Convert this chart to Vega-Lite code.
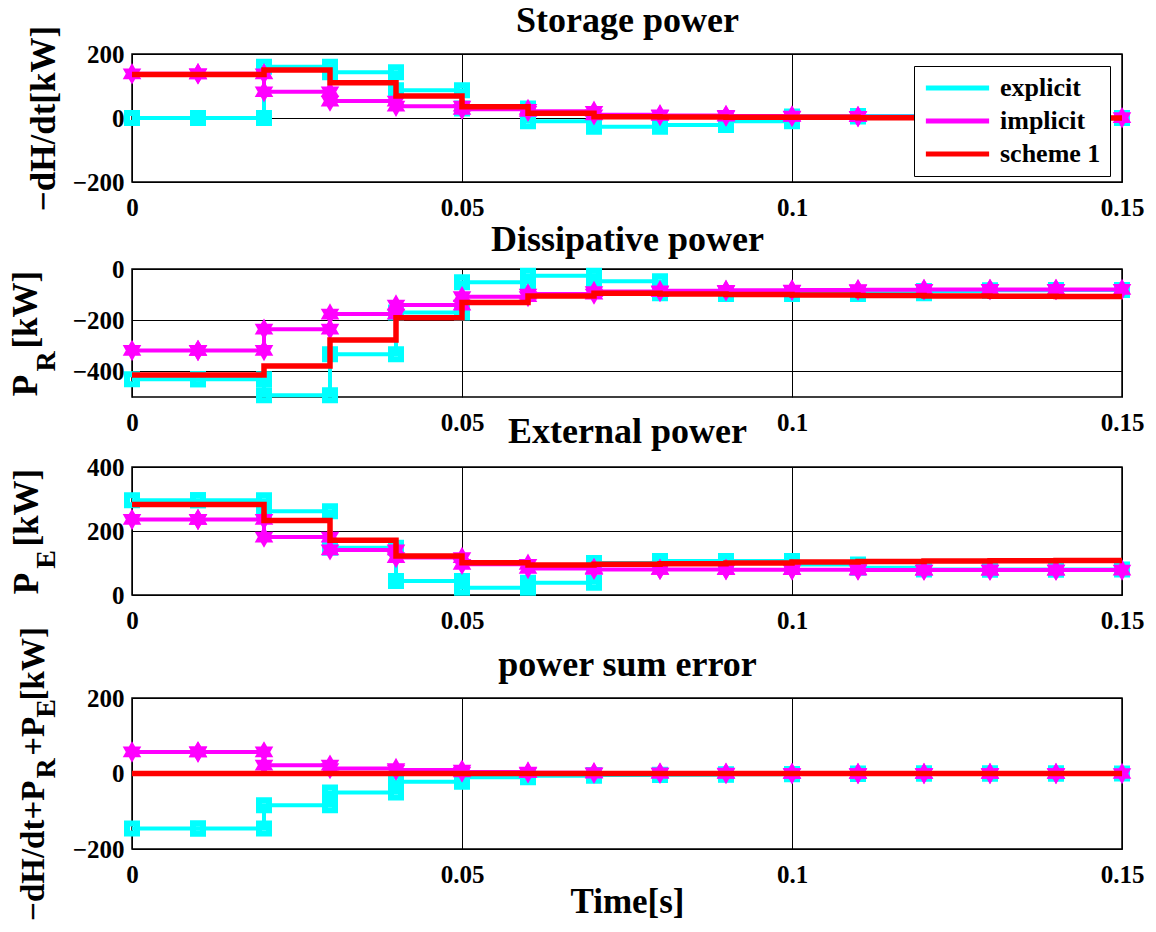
{
"$schema": "https://vega.github.io/schema/vega-lite/v6.json",
"padding": {"left": 7, "top": 1, "right": 0, "bottom": 0},
"background": "white",
"spacing": -25,
"config": {
 "font": "Liberation Serif",
 "view": {"stroke": "black", "strokeWidth": 1.5},
 "axis": {"labelFont": "Liberation Serif", "labelFontWeight": "bold", "labelFontSize": 25, "labelColor": "black", "titleFont": "Liberation Serif", "titleFontWeight": "bold", "titleFontSize": 35, "titleColor": "black", "ticks": false, "domain": false, "grid": true, "gridColor": "black", "gridOpacity": 1, "gridWidth": 1}
},
"datasets": {
 "e1": [{"t":0,"v":0},{"t":0.01,"v":0},{"t":0.01,"v":0},{"t":0.02,"v":0},{"t":0.02,"v":160},{"t":0.03,"v":160},{"t":0.03,"v":143},{"t":0.04,"v":143},{"t":0.04,"v":87},{"t":0.05,"v":87},{"t":0.05,"v":30},{"t":0.06,"v":30},{"t":0.06,"v":-10},{"t":0.07,"v":-10},{"t":0.07,"v":-27},{"t":0.08,"v":-27},{"t":0.08,"v":-22},{"t":0.09,"v":-22},{"t":0.09,"v":-10},{"t":0.1,"v":-10},{"t":0.1,"v":5},{"t":0.11,"v":5},{"t":0.11,"v":6},{"t":0.12,"v":6},{"t":0.12,"v":3},{"t":0.13,"v":3},{"t":0.13,"v":1},{"t":0.14,"v":1},{"t":0.14,"v":0},{"t":0.15,"v":0}],
 "i1": [{"t":0,"v":138},{"t":0.01,"v":138},{"t":0.01,"v":138},{"t":0.02,"v":138},{"t":0.02,"v":82},{"t":0.03,"v":82},{"t":0.03,"v":53},{"t":0.04,"v":53},{"t":0.04,"v":37},{"t":0.05,"v":37},{"t":0.05,"v":27},{"t":0.06,"v":27},{"t":0.06,"v":21},{"t":0.07,"v":21},{"t":0.07,"v":10},{"t":0.08,"v":10},{"t":0.08,"v":8},{"t":0.09,"v":8},{"t":0.09,"v":6},{"t":0.1,"v":6},{"t":0.1,"v":5},{"t":0.11,"v":5},{"t":0.11,"v":4},{"t":0.12,"v":4},{"t":0.12,"v":3},{"t":0.13,"v":3},{"t":0.13,"v":2},{"t":0.14,"v":2},{"t":0.14,"v":1},{"t":0.15,"v":1}],
 "s1": [{"t":0,"v":136},{"t":0.01,"v":136},{"t":0.02,"v":150},{"t":0.03,"v":110},{"t":0.04,"v":69},{"t":0.05,"v":35},{"t":0.06,"v":15},{"t":0.07,"v":4},{"t":0.08,"v":3},{"t":0.09,"v":2},{"t":0.1,"v":2},{"t":0.11,"v":1},{"t":0.12,"v":1},{"t":0.13,"v":1},{"t":0.14,"v":0},{"t":0.15,"v":0}],
 "e2": [{"t":0,"v":-431},{"t":0.01,"v":-431},{"t":0.01,"v":-431},{"t":0.02,"v":-431},{"t":0.02,"v":-493},{"t":0.03,"v":-493},{"t":0.03,"v":-333},{"t":0.04,"v":-333},{"t":0.04,"v":-170},{"t":0.05,"v":-170},{"t":0.05,"v":-52},{"t":0.06,"v":-52},{"t":0.06,"v":-26},{"t":0.07,"v":-26},{"t":0.07,"v":-48},{"t":0.08,"v":-48},{"t":0.08,"v":-95},{"t":0.09,"v":-95},{"t":0.09,"v":-98},{"t":0.1,"v":-98},{"t":0.1,"v":-98},{"t":0.11,"v":-98},{"t":0.11,"v":-95},{"t":0.12,"v":-95},{"t":0.12,"v":-86},{"t":0.13,"v":-86},{"t":0.13,"v":-83},{"t":0.14,"v":-83},{"t":0.14,"v":-82},{"t":0.15,"v":-82}],
 "i2": [{"t":0,"v":-318},{"t":0.01,"v":-318},{"t":0.01,"v":-318},{"t":0.02,"v":-318},{"t":0.02,"v":-235},{"t":0.03,"v":-235},{"t":0.03,"v":-176},{"t":0.04,"v":-176},{"t":0.04,"v":-141},{"t":0.05,"v":-141},{"t":0.05,"v":-108},{"t":0.06,"v":-108},{"t":0.06,"v":-98},{"t":0.07,"v":-98},{"t":0.07,"v":-88},{"t":0.08,"v":-88},{"t":0.08,"v":-85},{"t":0.09,"v":-85},{"t":0.09,"v":-83},{"t":0.1,"v":-83},{"t":0.1,"v":-82},{"t":0.11,"v":-82},{"t":0.11,"v":-81},{"t":0.12,"v":-81},{"t":0.12,"v":-80},{"t":0.13,"v":-80},{"t":0.13,"v":-80},{"t":0.14,"v":-80},{"t":0.14,"v":-80},{"t":0.15,"v":-80}],
 "s2": [{"t":0,"v":-414},{"t":0.01,"v":-414},{"t":0.02,"v":-379},{"t":0.03,"v":-277},{"t":0.04,"v":-190},{"t":0.05,"v":-131},{"t":0.06,"v":-105},{"t":0.07,"v":-95},{"t":0.08,"v":-98},{"t":0.09,"v":-100},{"t":0.1,"v":-102},{"t":0.11,"v":-104},{"t":0.12,"v":-105},{"t":0.13,"v":-106},{"t":0.14,"v":-107},{"t":0.15,"v":-107}],
 "e3": [{"t":0,"v":296},{"t":0.01,"v":296},{"t":0.01,"v":296},{"t":0.02,"v":296},{"t":0.02,"v":262},{"t":0.03,"v":262},{"t":0.03,"v":148},{"t":0.04,"v":148},{"t":0.04,"v":44},{"t":0.05,"v":44},{"t":0.05,"v":23},{"t":0.06,"v":23},{"t":0.06,"v":38},{"t":0.07,"v":38},{"t":0.07,"v":100},{"t":0.08,"v":100},{"t":0.08,"v":106},{"t":0.09,"v":106},{"t":0.09,"v":106},{"t":0.1,"v":106},{"t":0.1,"v":95},{"t":0.11,"v":95},{"t":0.11,"v":85},{"t":0.12,"v":85},{"t":0.12,"v":80},{"t":0.13,"v":80},{"t":0.13,"v":80},{"t":0.14,"v":80},{"t":0.14,"v":80},{"t":0.15,"v":80}],
 "i3": [{"t":0,"v":236},{"t":0.01,"v":236},{"t":0.01,"v":236},{"t":0.02,"v":236},{"t":0.02,"v":181},{"t":0.03,"v":181},{"t":0.03,"v":141},{"t":0.04,"v":141},{"t":0.04,"v":117},{"t":0.05,"v":117},{"t":0.05,"v":96},{"t":0.06,"v":96},{"t":0.06,"v":83},{"t":0.07,"v":83},{"t":0.07,"v":80},{"t":0.08,"v":80},{"t":0.08,"v":80},{"t":0.09,"v":80},{"t":0.09,"v":79},{"t":0.1,"v":79},{"t":0.1,"v":79},{"t":0.11,"v":79},{"t":0.11,"v":78},{"t":0.12,"v":78},{"t":0.12,"v":78},{"t":0.13,"v":78},{"t":0.13,"v":78},{"t":0.14,"v":78},{"t":0.14,"v":78},{"t":0.15,"v":78}],
 "s3": [{"t":0,"v":283},{"t":0.01,"v":283},{"t":0.02,"v":233},{"t":0.03,"v":171},{"t":0.04,"v":122},{"t":0.05,"v":101},{"t":0.06,"v":94},{"t":0.07,"v":96},{"t":0.08,"v":98},{"t":0.09,"v":100},{"t":0.1,"v":103},{"t":0.11,"v":105},{"t":0.12,"v":106},{"t":0.13,"v":107},{"t":0.14,"v":108},{"t":0.15,"v":108}],
 "e4": [{"t":0,"v":-146},{"t":0.01,"v":-146},{"t":0.01,"v":-146},{"t":0.02,"v":-146},{"t":0.02,"v":-84},{"t":0.03,"v":-84},{"t":0.03,"v":-50},{"t":0.04,"v":-50},{"t":0.04,"v":-22},{"t":0.05,"v":-22},{"t":0.05,"v":-10},{"t":0.06,"v":-10},{"t":0.06,"v":-6},{"t":0.07,"v":-6},{"t":0.07,"v":-4},{"t":0.08,"v":-4},{"t":0.08,"v":-3},{"t":0.09,"v":-3},{"t":0.09,"v":-2},{"t":0.1,"v":-2},{"t":0.1,"v":-1},{"t":0.11,"v":-1},{"t":0.11,"v":0},{"t":0.12,"v":0},{"t":0.12,"v":0},{"t":0.13,"v":0},{"t":0.13,"v":0},{"t":0.14,"v":0},{"t":0.14,"v":0},{"t":0.15,"v":0}],
 "i4": [{"t":0,"v":57},{"t":0.01,"v":57},{"t":0.01,"v":57},{"t":0.02,"v":57},{"t":0.02,"v":22},{"t":0.03,"v":22},{"t":0.03,"v":13},{"t":0.04,"v":13},{"t":0.04,"v":9},{"t":0.05,"v":9},{"t":0.05,"v":4},{"t":0.06,"v":4},{"t":0.06,"v":2},{"t":0.07,"v":2},{"t":0.07,"v":1},{"t":0.08,"v":1},{"t":0.08,"v":1},{"t":0.09,"v":1},{"t":0.09,"v":0},{"t":0.1,"v":0},{"t":0.1,"v":0},{"t":0.11,"v":0},{"t":0.11,"v":0},{"t":0.12,"v":0},{"t":0.12,"v":0},{"t":0.13,"v":0},{"t":0.13,"v":0},{"t":0.14,"v":0},{"t":0.14,"v":0},{"t":0.15,"v":0}],
 "s4": [{"t":0,"v":0},{"t":0.01,"v":0},{"t":0.02,"v":0},{"t":0.03,"v":0},{"t":0.04,"v":0},{"t":0.05,"v":0},{"t":0.06,"v":0},{"t":0.07,"v":0},{"t":0.08,"v":0},{"t":0.09,"v":0},{"t":0.1,"v":0},{"t":0.11,"v":0},{"t":0.12,"v":0},{"t":0.13,"v":0},{"t":0.14,"v":0},{"t":0.15,"v":0}]
},
"resolve": {"scale": {"color": "independent"}, "legend": {"color": "independent"}},
"vconcat": [
 {
  "width": 990, "height": 128,
  "resolve": {"axis": {"x": "independent", "y": "independent"}},
  "layer": [
   {"data": {"name": "e1"}, "mark": {"type": "line", "strokeWidth": 4},
    "encoding": {"order": {"value": null},
     "x": {"field": "t", "type": "quantitative", "scale": {"domain": [0, 0.15], "nice": false, "zero": false}, "axis": {"values": [0, 0.05, 0.1, 0.15], "format": ".2~f", "title": null, "labelPadding": 13, "labelAngle": 0, "labelFlush": false, "labelOverlap": false, "minExtent": 62}},
     "y": {"field": "v", "type": "quantitative", "scale": {"domain": [-200, 200], "nice": false, "zero": false}, "axis": {"values": [-200, 0, 200], "title": "−dH/dt[kW]", "titleX": -78, "titleY": 64, "titleAngle": 270, "titleBaseline": "alphabetic", "titleAlign": "center", "labelPadding": 8}},
     "color": {"datum": "explicit", "type": "nominal", "scale": {"domain": ["explicit", "implicit", "scheme 1"], "range": ["#00ffff", "#ff00ff", "#ff0000"]}, "legend": {"title": null, "orient": "top-right", "offset": 12, "symbolType": "stroke", "symbolSize": 4000, "symbolStrokeWidth": 5, "clipHeight": 26, "labelFontSize": 26, "labelFont": "Liberation Serif", "labelFontWeight": "bold", "labelColor": "black", "labelOffset": 8, "rowPadding": 7, "padding": 9, "strokeColor": "black", "fillColor": "white", "cornerRadius": 0}}}},
   {"data": {"name": "e1"}, "mark": {"type": "point", "shape": "square", "filled": false, "strokeWidth": 6, "size": 100, "color": "#00ffff", "opacity": 1},
    "encoding": {
     "x": {"field": "t", "type": "quantitative", "scale": {"domain": [0, 0.15], "nice": false, "zero": false}, "axis": {"orient": "top", "title": "Storage power", "labels": false, "ticks": false, "domain": false, "grid": false, "titlePadding": 23, "titleBaseline": "alphabetic", "titleFontSize": 36}},
     "y": {"field": "v", "type": "quantitative", "scale": {"domain": [-200, 200], "nice": false, "zero": false}, "axis": null}}},
   {"data": {"name": "i1"}, "mark": {"type": "line", "strokeWidth": 4},
    "encoding": {"order": {"value": null},
     "x": {"field": "t", "type": "quantitative", "scale": {"domain": [0, 0.15], "nice": false, "zero": false}, "axis": null},
     "y": {"field": "v", "type": "quantitative", "scale": {"domain": [-200, 200], "nice": false, "zero": false}, "axis": null},
     "color": {"datum": "implicit", "type": "nominal", "scale": {"domain": ["explicit", "implicit", "scheme 1"], "range": ["#00ffff", "#ff00ff", "#ff0000"]}, "legend": {"title": null, "orient": "top-right", "offset": 12, "symbolType": "stroke", "symbolSize": 4000, "symbolStrokeWidth": 5, "clipHeight": 26, "labelFontSize": 26, "labelFont": "Liberation Serif", "labelFontWeight": "bold", "labelColor": "black", "labelOffset": 8, "rowPadding": 7, "padding": 9, "strokeColor": "black", "fillColor": "white", "cornerRadius": 0}}}},
   {"data": {"name": "i1"}, "mark": {"type": "point", "shape": "M0,-1L0.2887,-0.5L0.866,-0.5L0.5774,0L0.866,0.5L0.2887,0.5L0,1L-0.2887,0.5L-0.866,0.5L-0.5774,0L-0.866,-0.5L-0.2887,-0.5Z", "filled": true, "size": 460, "color": "#ff00ff", "opacity": 1, "strokeWidth": 0},
    "encoding": {
     "x": {"field": "t", "type": "quantitative", "scale": {"domain": [0, 0.15], "nice": false, "zero": false}, "axis": null},
     "y": {"field": "v", "type": "quantitative", "scale": {"domain": [-200, 200], "nice": false, "zero": false}, "axis": null}}},
   {"data": {"name": "s1"}, "mark": {"type": "line", "strokeWidth": 5.5, "interpolate": "step-after"},
    "encoding": {"order": {"value": null},
     "x": {"field": "t", "type": "quantitative", "scale": {"domain": [0, 0.15], "nice": false, "zero": false}, "axis": null},
     "y": {"field": "v", "type": "quantitative", "scale": {"domain": [-200, 200], "nice": false, "zero": false}, "axis": null},
     "color": {"datum": "scheme 1", "type": "nominal", "scale": {"domain": ["explicit", "implicit", "scheme 1"], "range": ["#00ffff", "#ff00ff", "#ff0000"]}, "legend": {"title": null, "orient": "top-right", "offset": 12, "symbolType": "stroke", "symbolSize": 4000, "symbolStrokeWidth": 5, "clipHeight": 26, "labelFontSize": 26, "labelFont": "Liberation Serif", "labelFontWeight": "bold", "labelColor": "black", "labelOffset": 8, "rowPadding": 7, "padding": 9, "strokeColor": "black", "fillColor": "white", "cornerRadius": 0}}}}
  ]
 },
 {
  "width": 990, "height": 128,
  "resolve": {"axis": {"x": "independent", "y": "independent"}},
  "layer": [
   {"data": {"name": "e2"}, "mark": {"type": "line", "strokeWidth": 4},
    "encoding": {"order": {"value": null},
     "x": {"field": "t", "type": "quantitative", "scale": {"domain": [0, 0.15], "nice": false, "zero": false}, "axis": {"values": [0, 0.05, 0.1, 0.15], "format": ".2~f", "title": null, "labelPadding": 13, "labelAngle": 0, "labelFlush": false, "labelOverlap": false, "minExtent": 39}},
     "y": {"field": "v", "type": "quantitative", "scale": {"domain": [-500, 0], "nice": false, "zero": false}, "axis": {"values": [-400, -200, 0], "title": "P\u00a0\u00a0\u00a0[kW]", "titleX": -96, "titleY": 64, "titleAngle": 270, "titleBaseline": "alphabetic", "titleAlign": "center", "labelPadding": 8}},
     "color": {"datum": "explicit", "type": "nominal", "scale": {"domain": ["explicit", "implicit", "scheme 1"], "range": ["#00ffff", "#ff00ff", "#ff0000"]}, "legend": null}}},
   {"data": {"name": "e2"}, "mark": {"type": "point", "shape": "square", "filled": false, "strokeWidth": 6, "size": 100, "color": "#00ffff", "opacity": 1},
    "encoding": {
     "x": {"field": "t", "type": "quantitative", "scale": {"domain": [0, 0.15], "nice": false, "zero": false}, "axis": {"orient": "top", "title": "Dissipative power", "labels": false, "ticks": false, "domain": false, "grid": false, "titlePadding": 19, "titleBaseline": "alphabetic", "titleFontSize": 36}},
     "y": {"field": "v", "type": "quantitative", "scale": {"domain": [-500, 0], "nice": false, "zero": false}, "axis": {"title": "R", "orient": "left", "labels": false, "ticks": false, "domain": false, "grid": false, "titleX": -78, "titleY": 92, "titleAngle": 270, "titleBaseline": "alphabetic", "titleAlign": "center", "titleFontSize": 28}}}},
   {"data": {"name": "i2"}, "mark": {"type": "line", "strokeWidth": 4},
    "encoding": {"order": {"value": null},
     "x": {"field": "t", "type": "quantitative", "scale": {"domain": [0, 0.15], "nice": false, "zero": false}, "axis": null},
     "y": {"field": "v", "type": "quantitative", "scale": {"domain": [-500, 0], "nice": false, "zero": false}, "axis": null},
     "color": {"datum": "implicit", "type": "nominal", "scale": {"domain": ["explicit", "implicit", "scheme 1"], "range": ["#00ffff", "#ff00ff", "#ff0000"]}, "legend": null}}},
   {"data": {"name": "i2"}, "mark": {"type": "point", "shape": "M0,-1L0.2887,-0.5L0.866,-0.5L0.5774,0L0.866,0.5L0.2887,0.5L0,1L-0.2887,0.5L-0.866,0.5L-0.5774,0L-0.866,-0.5L-0.2887,-0.5Z", "filled": true, "size": 460, "color": "#ff00ff", "opacity": 1, "strokeWidth": 0},
    "encoding": {
     "x": {"field": "t", "type": "quantitative", "scale": {"domain": [0, 0.15], "nice": false, "zero": false}, "axis": null},
     "y": {"field": "v", "type": "quantitative", "scale": {"domain": [-500, 0], "nice": false, "zero": false}, "axis": null}}},
   {"data": {"name": "s2"}, "mark": {"type": "line", "strokeWidth": 5.5, "interpolate": "step-after"},
    "encoding": {"order": {"value": null},
     "x": {"field": "t", "type": "quantitative", "scale": {"domain": [0, 0.15], "nice": false, "zero": false}, "axis": null},
     "y": {"field": "v", "type": "quantitative", "scale": {"domain": [-500, 0], "nice": false, "zero": false}, "axis": null},
     "color": {"datum": "scheme 1", "type": "nominal", "scale": {"domain": ["explicit", "implicit", "scheme 1"], "range": ["#00ffff", "#ff00ff", "#ff0000"]}, "legend": null}}}
  ]
 },
 {
  "width": 990, "height": 128,
  "resolve": {"axis": {"x": "independent", "y": "independent"}},
  "layer": [
   {"data": {"name": "e3"}, "mark": {"type": "line", "strokeWidth": 4},
    "encoding": {"order": {"value": null},
     "x": {"field": "t", "type": "quantitative", "scale": {"domain": [0, 0.15], "nice": false, "zero": false}, "axis": {"values": [0, 0.05, 0.1, 0.15], "format": ".2~f", "title": null, "labelPadding": 13, "labelAngle": 0, "labelFlush": false, "labelOverlap": false, "minExtent": 54}},
     "y": {"field": "v", "type": "quantitative", "scale": {"domain": [0, 400], "nice": false, "zero": false}, "axis": {"values": [0, 200, 400], "title": "P\u00a0\u00a0\u00a0[kW]", "titleX": -95, "titleY": 64, "titleAngle": 270, "titleBaseline": "alphabetic", "titleAlign": "center", "labelPadding": 8}},
     "color": {"datum": "explicit", "type": "nominal", "scale": {"domain": ["explicit", "implicit", "scheme 1"], "range": ["#00ffff", "#ff00ff", "#ff0000"]}, "legend": null}}},
   {"data": {"name": "e3"}, "mark": {"type": "point", "shape": "square", "filled": false, "strokeWidth": 6, "size": 100, "color": "#00ffff", "opacity": 1},
    "encoding": {
     "x": {"field": "t", "type": "quantitative", "scale": {"domain": [0, 0.15], "nice": false, "zero": false}, "axis": {"orient": "top", "title": "External power", "labels": false, "ticks": false, "domain": false, "grid": false, "titlePadding": 25, "titleBaseline": "alphabetic", "titleFontSize": 36}},
     "y": {"field": "v", "type": "quantitative", "scale": {"domain": [0, 400], "nice": false, "zero": false}, "axis": {"title": "E", "orient": "left", "labels": false, "ticks": false, "domain": false, "grid": false, "titleX": -78, "titleY": 92, "titleAngle": 270, "titleBaseline": "alphabetic", "titleAlign": "center", "titleFontSize": 28}}}},
   {"data": {"name": "i3"}, "mark": {"type": "line", "strokeWidth": 4},
    "encoding": {"order": {"value": null},
     "x": {"field": "t", "type": "quantitative", "scale": {"domain": [0, 0.15], "nice": false, "zero": false}, "axis": null},
     "y": {"field": "v", "type": "quantitative", "scale": {"domain": [0, 400], "nice": false, "zero": false}, "axis": null},
     "color": {"datum": "implicit", "type": "nominal", "scale": {"domain": ["explicit", "implicit", "scheme 1"], "range": ["#00ffff", "#ff00ff", "#ff0000"]}, "legend": null}}},
   {"data": {"name": "i3"}, "mark": {"type": "point", "shape": "M0,-1L0.2887,-0.5L0.866,-0.5L0.5774,0L0.866,0.5L0.2887,0.5L0,1L-0.2887,0.5L-0.866,0.5L-0.5774,0L-0.866,-0.5L-0.2887,-0.5Z", "filled": true, "size": 460, "color": "#ff00ff", "opacity": 1, "strokeWidth": 0},
    "encoding": {
     "x": {"field": "t", "type": "quantitative", "scale": {"domain": [0, 0.15], "nice": false, "zero": false}, "axis": null},
     "y": {"field": "v", "type": "quantitative", "scale": {"domain": [0, 400], "nice": false, "zero": false}, "axis": null}}},
   {"data": {"name": "s3"}, "mark": {"type": "line", "strokeWidth": 5.5, "interpolate": "step-after"},
    "encoding": {"order": {"value": null},
     "x": {"field": "t", "type": "quantitative", "scale": {"domain": [0, 0.15], "nice": false, "zero": false}, "axis": null},
     "y": {"field": "v", "type": "quantitative", "scale": {"domain": [0, 400], "nice": false, "zero": false}, "axis": null},
     "color": {"datum": "scheme 1", "type": "nominal", "scale": {"domain": ["explicit", "implicit", "scheme 1"], "range": ["#00ffff", "#ff00ff", "#ff0000"]}, "legend": null}}}
  ]
 },
 {
  "width": 990, "height": 151,
  "resolve": {"axis": {"x": "independent", "y": "independent"}},
  "layer": [
   {"data": {"name": "e4"}, "mark": {"type": "line", "strokeWidth": 4},
    "encoding": {"order": {"value": null},
     "x": {"field": "t", "type": "quantitative", "scale": {"domain": [0, 0.15], "nice": false, "zero": false}, "axis": {"values": [0, 0.05, 0.1, 0.15], "format": ".2~f", "title": "Time[s]", "titleFontSize": 35, "titlePadding": -3, "labelPadding": 13, "labelAngle": 0, "labelFlush": false, "labelOverlap": false}},
     "y": {"field": "v", "type": "quantitative", "scale": {"domain": [-200, 200], "nice": false, "zero": false}, "axis": {"values": [-200, 0, 200], "title": "−dH/dt+P\u00a0\u00a0\u00a0+P\u00a0\u00a0[kW]", "titleFontSize": 33, "titleX": -89, "titleY": 75.5, "titleAngle": 270, "titleBaseline": "alphabetic", "titleAlign": "center", "labelPadding": 8}},
     "color": {"datum": "explicit", "type": "nominal", "scale": {"domain": ["explicit", "implicit", "scheme 1"], "range": ["#00ffff", "#ff00ff", "#ff0000"]}, "legend": null}}},
   {"data": {"name": "e4"}, "mark": {"type": "point", "shape": "square", "filled": false, "strokeWidth": 6, "size": 100, "color": "#00ffff", "opacity": 1},
    "encoding": {
     "x": {"field": "t", "type": "quantitative", "scale": {"domain": [0, 0.15], "nice": false, "zero": false}, "axis": {"orient": "top", "title": "power sum error", "labels": false, "ticks": false, "domain": false, "grid": false, "titlePadding": 23, "titleBaseline": "alphabetic", "titleFontSize": 36}},
     "y": {"field": "v", "type": "quantitative", "scale": {"domain": [-200, 200], "nice": false, "zero": false}, "axis": {"title": "R", "orient": "left", "labels": false, "ticks": false, "domain": false, "grid": false, "titleX": -78, "titleY": 70, "titleAngle": 270, "titleBaseline": "alphabetic", "titleAlign": "center", "titleFontSize": 28}}}},
   {"data": {"name": "i4"}, "mark": {"type": "line", "strokeWidth": 4},
    "encoding": {"order": {"value": null},
     "x": {"field": "t", "type": "quantitative", "scale": {"domain": [0, 0.15], "nice": false, "zero": false}, "axis": null},
     "y": {"field": "v", "type": "quantitative", "scale": {"domain": [-200, 200], "nice": false, "zero": false}, "axis": null},
     "color": {"datum": "implicit", "type": "nominal", "scale": {"domain": ["explicit", "implicit", "scheme 1"], "range": ["#00ffff", "#ff00ff", "#ff0000"]}, "legend": null}}},
   {"data": {"name": "i4"}, "mark": {"type": "point", "shape": "M0,-1L0.2887,-0.5L0.866,-0.5L0.5774,0L0.866,0.5L0.2887,0.5L0,1L-0.2887,0.5L-0.866,0.5L-0.5774,0L-0.866,-0.5L-0.2887,-0.5Z", "filled": true, "size": 460, "color": "#ff00ff", "opacity": 1, "strokeWidth": 0},
    "encoding": {
     "x": {"field": "t", "type": "quantitative", "scale": {"domain": [0, 0.15], "nice": false, "zero": false}, "axis": null},
     "y": {"field": "v", "type": "quantitative", "scale": {"domain": [-200, 200], "nice": false, "zero": false}, "axis": {"title": "E", "orient": "left", "labels": false, "ticks": false, "domain": false, "grid": false, "titleX": -78, "titleY": 10, "titleAngle": 270, "titleBaseline": "alphabetic", "titleAlign": "center", "titleFontSize": 28}}}},
   {"data": {"name": "s4"}, "mark": {"type": "line", "strokeWidth": 5.5, "interpolate": "step-after"},
    "encoding": {"order": {"value": null},
     "x": {"field": "t", "type": "quantitative", "scale": {"domain": [0, 0.15], "nice": false, "zero": false}, "axis": null},
     "y": {"field": "v", "type": "quantitative", "scale": {"domain": [-200, 200], "nice": false, "zero": false}, "axis": null},
     "color": {"datum": "scheme 1", "type": "nominal", "scale": {"domain": ["explicit", "implicit", "scheme 1"], "range": ["#00ffff", "#ff00ff", "#ff0000"]}, "legend": null}}}
  ]
 }
]
}
